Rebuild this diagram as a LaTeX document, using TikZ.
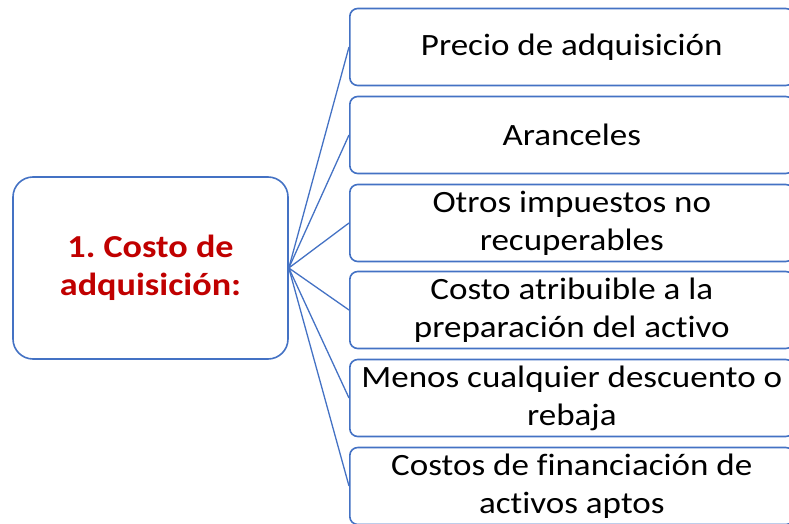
\documentclass[tikz,border=0pt]{standalone}
\usepackage{fontspec}
\setmainfont{Carlito}[FakeStretch=1.13,Ligatures=NoCommon]
\definecolor{lblue}{HTML}{4472C4}
\definecolor{dred}{HTML}{C00000}
\begin{document}
\begin{tikzpicture}[x=1pt,y=-1pt]
\useasboundingbox (0,0) rectangle (789,524);
\clip (0,0) rectangle (789,524);
\tikzset{
  leaf/.style={draw=lblue, line width=1.6pt, rounded corners=8pt, fill=white,
    minimum width=444pt, minimum height=77pt, inner sep=0pt, align=center,
    font=\fontsize{31}{38}\selectfont, anchor=west},
  rootbox/.style={draw=lblue, line width=1.6pt, rounded corners=20pt, fill=white,
    minimum width=275pt, minimum height=182pt, inner sep=0pt, align=center,
    text=dred, font=\fontsize{32}{38}\selectfont\bfseries},
  link/.style={draw=lblue, line width=1.3pt}
}
\node[rootbox] (root) at (150.5,268) {1.\ Costo de\\adquisición:};
\node[leaf] (b1) at (349,47) {Precio de adquisición};
\node[leaf] (b2) at (349,135) {Aranceles};
\node[leaf] (b3) at (349,223) {Otros impuestos no\\recuperables};
\node[leaf] (b4) at (349,310) {Costo atribuible a la\\preparación del activo};
\node[leaf] (b5) at (349,398) {Menos cualquier descuento o\\rebaja};
\node[leaf] (b6) at (349,486) {Costos de financiación de\\activos aptos};
\foreach \b in {b1,b2,b3,b4,b5,b6} {\draw[link] (root.east) -- (\b.west);}
\end{tikzpicture}
\end{document}
